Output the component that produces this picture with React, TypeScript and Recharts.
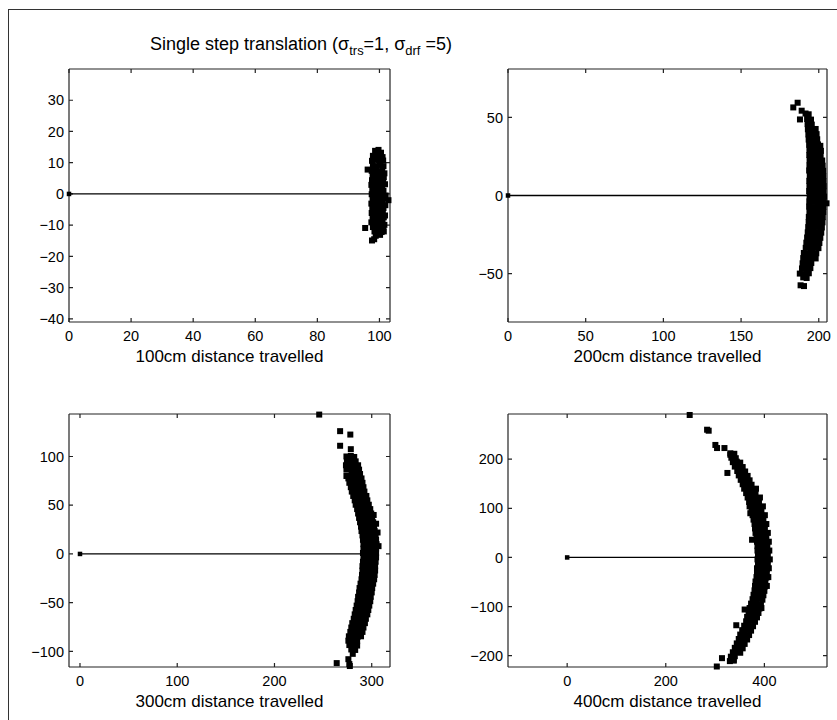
import React from "react";
import { ScatterChart, Scatter, XAxis, YAxis, ReferenceLine } from "recharts";

type Pt = [number, number];

// end points of a single-step translation
const ends100: Pt[] = [
  [98.6, 13.8], [99.7, 14.1], [100.5, 13.2],
  [97.9, 12.2], [99.0, 12.5], [100.1, 12.0], [101.0, 11.8],
  [97.6, 10.6], [98.7, 10.9], [99.9, 10.4], [101.2, 10.7],
  [97.9, 9.1], [99.1, 8.8], [100.3, 9.3], [101.3, 8.9],
  [96.2, 7.8], [97.5, 7.4], [98.6, 7.6], [99.8, 7.2], [100.9, 7.7], [101.6, 6.6],
  [97.8, 5.9], [99.0, 6.2], [100.2, 5.8], [101.4, 5.4],
  [97.6, 4.4], [98.8, 4.7], [100.0, 4.2], [101.2, 3.9],
  [97.4, 2.9], [98.5, 3.2], [99.7, 2.7], [100.9, 2.5], [101.8, 3.1],
  [97.7, 1.4], [98.9, 1.7], [100.1, 1.2], [101.3, 1.0],
  [97.5, -0.1], [98.7, 0.2], [99.9, -0.3], [101.1, 0.1], [102.0, -0.5],
  [97.8, -1.6], [99.0, -1.3], [100.2, -1.8], [101.4, -1.5], [102.9, -2.0],
  [97.4, -3.1], [98.6, -2.8], [99.8, -3.3], [101.0, -3.0], [101.9, -3.6],
  [97.7, -4.6], [98.9, -4.3], [100.1, -4.8], [101.3, -4.5],
  [97.5, -6.1], [98.7, -5.8], [99.9, -6.3], [101.1, -6.0], [101.8, -6.9],
  [97.8, -7.6], [99.0, -7.3], [100.2, -7.8], [101.4, -7.5],
  [97.4, -9.1], [98.6, -8.8], [99.8, -9.3], [101.0, -9.0], [101.6, -9.9],
  [95.4, -10.9], [97.9, -10.6], [99.1, -10.3], [100.3, -10.8], [101.2, -10.4],
  [98.4, -12.0], [99.6, -11.7], [100.7, -12.2], [101.4, -12.0],
  [98.8, -13.4], [100.2, -13.1],
  [97.6, -14.9], [98.3, -14.5],
];

const ends200: Pt[] = [
  [186.4, 59.4], [183.6, 56.4], [189.0, 54.3],
  [191.5, 52.5], [193.5, 52.0],
  [187.9, 48.7], [192.5, 49.0], [195.0, 48.6],
  [192.8, 45.7], [195.5, 45.4],
  [193.0, 42.4], [195.8, 42.1], [198.0, 42.6],
  [193.3, 39.1], [196.1, 38.8], [198.6, 39.3],
  [193.5, 35.8], [196.4, 35.5], [199.0, 36.0],
  [193.8, 32.5], [196.7, 32.2], [199.5, 32.7], [201.0, 31.8],
  [194.0, 29.2], [197.0, 28.9], [199.8, 29.4], [201.4, 28.6],
  [193.9, 25.9], [196.8, 25.6], [199.7, 26.1], [201.2, 25.5],
  [194.1, 22.6], [197.1, 22.3], [200.0, 22.8], [202.2, 22.4],
  [194.0, 19.3], [197.0, 19.0], [199.9, 19.5], [202.5, 19.1],
  [193.8, 16.0], [196.9, 15.7], [199.9, 16.2], [202.8, 15.8],
  [194.2, 12.7], [197.2, 12.4], [200.2, 12.9], [202.9, 12.5],
  [193.9, 9.4], [197.0, 9.1], [200.0, 9.6], [203.0, 9.2],
  [194.0, 6.1], [197.1, 5.8], [200.2, 6.3], [203.2, 5.9],
  [193.8, 2.8], [196.9, 2.5], [200.0, 3.0], [203.1, 2.6],
  [194.1, -0.5], [197.2, -0.8], [200.3, -0.3], [203.4, -0.7],
  [193.9, -3.8], [197.0, -4.1], [200.1, -3.6], [203.2, -4.0], [205.0, -5.0],
  [193.8, -7.1], [196.9, -7.4], [200.0, -6.9], [203.0, -7.3],
  [194.0, -10.4], [197.1, -10.7], [200.2, -10.2], [202.9, -10.6],
  [193.6, -13.7], [196.7, -14.0], [199.8, -13.5], [202.6, -13.9],
  [193.5, -17.0], [196.5, -17.3], [199.6, -16.8], [202.4, -17.2],
  [193.2, -20.3], [196.2, -20.6], [199.3, -20.1], [202.0, -20.5],
  [192.9, -23.6], [195.9, -23.9], [199.0, -23.4], [201.6, -23.8],
  [192.5, -26.9], [195.5, -27.2], [198.5, -26.7], [201.0, -27.1],
  [192.0, -30.2], [195.1, -30.5], [198.1, -30.0], [200.4, -30.4],
  [191.6, -33.5], [194.6, -33.8], [197.6, -33.3], [199.8, -33.7],
  [190.4, -36.8], [193.2, -37.1], [196.0, -36.6], [198.4, -37.0],
  [190.0, -40.1], [193.0, -40.4], [195.8, -39.9], [198.0, -40.3],
  [189.6, -43.4], [192.5, -43.7], [195.2, -43.2],
  [189.2, -46.7], [192.0, -47.0], [194.6, -46.5],
  [187.8, -50.0], [190.8, -50.3], [193.6, -49.8],
  [190.0, -52.4], [192.2, -52.8],
  [188.3, -57.5], [190.5, -58.0],
];

const ends300: Pt[] = [
  [246, 143], [267.5, 126], [278, 122.5], [267.5, 111], [278.5, 107.5],
  [274, 100], [278.5, 100.5], [282, 99.5],
  [274.5, 95.5], [279, 96], [283.5, 95],
  [273.5, 91], [277.5, 91.5], [282, 90.5], [286, 91],
  [274, 86.5], [278.5, 87], [283, 86], [287, 86.5],
  [274, 80], [279.5, 82.5], [284, 81.5], [288, 82],
  [276, 77.5], [280.5, 78], [285, 77], [289.5, 77.5],
  [277, 73], [281.5, 73.5], [286, 72.5], [290.5, 73],
  [278.5, 68.5], [283, 69], [287.5, 68], [291.5, 68.5],
  [279.5, 64], [284, 64.5], [288.5, 63.5], [292.5, 64],
  [281, 59.5], [285.5, 60], [290, 59], [294.5, 59.5],
  [282.5, 55], [287, 55.5], [291.5, 54.5], [295.5, 55],
  [283.5, 50.5], [288, 51], [292.5, 50], [297, 50.5],
  [285, 46], [289.5, 46.5], [294, 45.5], [298.5, 46],
  [286, 41.5], [290.5, 42], [295, 41], [299.5, 41.5], [302, 40],
  [287, 37], [291.5, 37.5], [296, 36.5], [300.5, 37],
  [288, 32.5], [292.5, 33], [297, 32], [301.5, 32.5], [304.5, 31],
  [289, 28], [293.5, 28.5], [298, 27.5], [302.5, 28],
  [289.5, 23.5], [294, 24], [298.5, 23], [303, 23.5], [306, 22],
  [290.5, 19], [295, 19.5], [299.5, 18.5], [304, 19],
  [291, 14.5], [295.5, 15], [300, 14], [304.5, 14.5],
  [291.5, 10], [296, 10.5], [300.5, 9.5], [305, 10], [307, 8],
  [291.5, 5.5], [296, 6], [300.5, 5], [304.5, 5.5],
  [291, 1], [295.5, 1.5], [300, 0.5], [304.5, 1],
  [291.5, -3.5], [296, -3], [300.5, -4], [304.5, -3.5],
  [291, -8], [295.5, -7.5], [300, -8.5], [304, -8],
  [290.5, -12.5], [295, -12], [299.5, -13], [303.5, -12.5],
  [290.5, -17], [295, -16.5], [299.5, -17.5], [303.5, -17],
  [290, -21.5], [294.5, -21], [299, -22], [303, -21.5],
  [289.5, -26], [294, -25.5], [298.5, -26.5], [302.5, -26],
  [288.5, -30.5], [293, -30], [297.5, -31], [301.5, -30.5],
  [287.5, -35], [292, -34.5], [296.5, -35.5], [300.5, -35],
  [287, -39.5], [291.5, -39], [296, -40], [300, -39.5],
  [286, -44], [290.5, -43.5], [295, -44.5], [299, -44],
  [285.5, -48.5], [290, -48], [294.5, -49], [298.5, -48.5],
  [284.5, -53], [289, -52.5], [293.5, -53.5], [297.5, -53],
  [283.5, -57.5], [288, -57], [292.5, -58], [296.5, -57.5],
  [282.5, -62], [287, -61.5], [291.5, -62.5], [295.5, -62],
  [281.5, -66.5], [286, -66], [290.5, -67], [294, -66.5],
  [280, -71], [284.5, -70.5], [289, -71.5], [293, -71],
  [279, -75.5], [283.5, -75], [288, -76], [291.5, -75.5],
  [278, -80], [282.5, -79.5], [287, -80.5], [290.5, -80],
  [276.5, -84.5], [281, -84], [285.5, -85], [289, -84.5],
  [276, -89], [280.5, -88.5], [285, -89.5],
  [277, -93.5], [281.5, -93], [285, -94],
  [279, -98], [283, -98.5],
  [280.5, -102.5], [276, -108], [264, -112], [277, -113], [277.5, -115],
];

const ends400: Pt[] = [
  [248.5, 290], [283.8, 260], [287, 258], [300.6, 229], [304, 222.7], [319, 222.7], [331, 209],
  [331, 212], [339, 211],
  [333, 203], [342, 202],
  [336, 194], [344, 195], [351, 193],
  [340, 185], [348, 186], [356, 184],
  [325, 172], [345, 176], [353, 177], [361, 175],
  [348, 167], [357, 168], [366, 166],
  [352, 158], [361, 159], [370, 157],
  [356, 149], [365, 150], [374, 148],
  [359, 140], [369, 141], [378, 139], [383, 140],
  [363, 131], [372, 132], [382, 130],
  [366, 122], [376, 123], [386, 121], [391, 122],
  [369, 113], [379, 114], [389, 112],
  [370, 104], [380, 105], [390, 103], [397, 104],
  [374, 95], [384, 96], [394, 94],
  [371.5, 90], [376, 86], [386, 87], [396, 85], [401, 86],
  [378, 77], [388, 78], [398, 76],
  [380, 68], [390, 69], [400, 67], [404, 68],
  [381, 59], [391, 60], [401, 58],
  [382, 50], [392, 51], [402, 49], [407, 50],
  [375, 36], [384, 41], [394, 42], [404, 40],
  [385, 32], [395, 33], [405, 31], [409, 32],
  [386, 23], [396, 24], [406, 22],
  [386, 14], [396, 15], [406, 13], [410, 14],
  [387, 5], [397, 6], [407, 4],
  [386, -4], [396, -3], [406, -5], [411, -4],
  [387, -13], [397, -12], [407, -14],
  [385, -22], [395, -21], [405, -23], [409, -22],
  [385, -31], [395, -30], [405, -32],
  [384, -40], [394, -39], [404, -41], [408, -40],
  [382, -49], [392, -48], [402, -50],
  [381, -58], [391, -57], [401, -59], [405, -58],
  [380, -67], [390, -66], [400, -68],
  [378, -76], [388, -75], [398, -77],
  [376, -85], [386, -84], [396, -86],
  [373, -94], [383, -93], [393, -95],
  [360, -106], [370, -103], [380, -102], [390, -104], [394, -103],
  [368, -112], [378, -111], [388, -113],
  [365, -121], [375, -120], [385, -122],
  [363, -130], [372, -129], [381, -131],
  [343, -138], [359, -139], [368, -138], [377, -140],
  [355, -148], [364, -147], [373, -149],
  [351, -157], [360, -156], [369, -158],
  [348, -166], [357, -165], [365, -167],
  [344, -175], [352, -174], [360, -176],
  [340, -184], [348, -183], [356, -185],
  [336, -193], [344, -192], [351, -194],
  [332, -202], [340, -201],
  [330, -211], [338, -210], [337.7, -208], [314, -205], [303.5, -222],
];

// path from the start point to the commanded end point
const path100: Pt[] = [[0, 0], [97, 0]];
const path200: Pt[] = [[0, 0], [194, 0]];
const path300: Pt[] = [[0, 0], [290, 0]];
const path400: Pt[] = [[0, 0], [386, 0]];

const xTicks100 = [0, 20, 40, 60, 80, 100];
const yTicks100 = [-40, -30, -20, -10, 0, 10, 20, 30];
const xTicks200 = [0, 50, 100, 150, 200];
const yTicks200 = [-50, 0, 50];
const xTicks300 = [0, 100, 200, 300];
const yTicks300 = [-100, -50, 0, 50, 100];
const xTicks400 = [0, 200, 400];
const yTicks400 = [-200, -100, 0, 100, 200];

const FONT = "'Liberation Sans', Arial, Helvetica, sans-serif";
const AXIS = "#222";
const TICK = 4;

const fmt = (v: number) => String(v).replace("-", "\u2212");
const toXY = (p: Pt[]) => p.map(([x, y]) => ({ x, y }));

const Square = (size: number) => (p: any) =>
  <rect x={p.cx - size / 2} y={p.cy - size / 2} width={size} height={size} fill="#000" />;
const Nothing = () => <g />;

// inward tick marks at both ends of a reference line (matlab style box ticks)
const XTickMark = (p: any) => {
  const x = p.x1, top = Math.min(p.y1, p.y2), bot = Math.max(p.y1, p.y2);
  return <path d={`M${x},${top}v${TICK}M${x},${bot}v${-TICK}`} stroke={AXIS} strokeWidth={1.2} fill="none" />;
};
const YTickMark = (p: any) => {
  const y = p.y1, l = Math.min(p.x1, p.x2), r = Math.max(p.x1, p.x2);
  return <path d={`M${l},${y}h${TICK}M${r},${y}h${-TICK}`} stroke={AXIS} strokeWidth={1.2} fill="none" />;
};

type PanelProps = {
  left: number; top: number; w: number; h: number;
  xDomain: [number, number]; yDomain: [number, number];
  xTicks: number[]; yTicks: number[];
  ends: Pt[]; path: Pt[]; label: string;
};

function Panel({ left, top, w, h, xDomain, yDomain, xTicks, yTicks, ends, path, label }: PanelProps) {
  const tickStyle = { fill: "#000", fontSize: 14.5, fontFamily: FONT };
  return (
    <>
      <div style={{ position: "absolute", left: left - 60, top: top - 10 }}>
        <ScatterChart width={60 + w + 14} height={10 + h + 50} margin={{ top: 10, right: 14, bottom: 0, left: 0 }}>
          <XAxis xAxisId="b" type="number" dataKey="x" orientation="bottom" height={50}
            domain={xDomain} ticks={xTicks} interval={0} tickFormatter={fmt} tickLine={false}
            tickSize={-TICK} tickMargin={13} stroke={AXIS} strokeWidth={1.2} tick={tickStyle} />
          <YAxis yAxisId="l" type="number" dataKey="y" orientation="left" width={60}
            domain={yDomain} ticks={yTicks} interval={0} tickFormatter={fmt} tickLine={false}
            tickSize={-TICK} tickMargin={9} stroke={AXIS} strokeWidth={1.2} tick={tickStyle} />
          {/* top and right sides of the box */}
          <ReferenceLine xAxisId="b" yAxisId="l" y={yDomain[1]} stroke={AXIS} strokeWidth={1.2} />
          <ReferenceLine xAxisId="b" yAxisId="l" x={xDomain[1]} stroke={AXIS} strokeWidth={1.2} />
          {xTicks.map((t) => (
            <ReferenceLine key={`x${t}`} xAxisId="b" yAxisId="l" x={t} shape={XTickMark} />
          ))}
          {yTicks.map((t) => (
            <ReferenceLine key={`y${t}`} xAxisId="b" yAxisId="l" y={t} shape={YTickMark} />
          ))}
          <Scatter xAxisId="b" yAxisId="l" data={toXY(path)} line={{ stroke: "#000", strokeWidth: 1.3 }}
            shape={Nothing} isAnimationActive={false} />
          <Scatter xAxisId="b" yAxisId="l" data={toXY(ends)} shape={Square(6)} isAnimationActive={false} />
          <Scatter xAxisId="b" yAxisId="l" data={[{ x: 0, y: 0 }]} shape={Square(4.5)} isAnimationActive={false} />
        </ScatterChart>
      </div>
      <div style={{
        position: "absolute", left: left + w / 2 - 150, width: 300, top: top + h + 25,
        textAlign: "center", fontFamily: FONT, fontSize: 17, lineHeight: "19px", color: "#000",
      }}>{label}</div>
    </>
  );
}

export default function App() {
  return (
    <div style={{ position: "absolute", left: 0, top: 0, width: 837, height: 720, overflow: "hidden", background: "#fff" }}>
      <div style={{ position: "absolute", left: 8, top: 9, width: 900, height: 800, borderLeft: "1.5px solid #333", borderTop: "1.5px solid #333" }} />
      <div style={{ position: "absolute", left: 150, top: 35, fontFamily: FONT, fontSize: 18, lineHeight: 1, whiteSpace: "nowrap", color: "#000" }}>
        Single step translation (σ<span style={{ fontSize: "0.72em", verticalAlign: "-0.4em", lineHeight: 0 }}>trs</span>=1, σ<span style={{ fontSize: "0.72em", verticalAlign: "-0.4em", lineHeight: 0 }}>drf</span> =5)
      </div>
      <Panel left={69} top={69} w={321} h={253} xDomain={[0, 103.4]} yDomain={[-41, 40]}
        xTicks={xTicks100} yTicks={yTicks100} ends={ends100} path={path100} label="100cm distance travelled" />
      <Panel left={508} top={69} w={319} h={253} xDomain={[0, 205.3]} yDomain={[-81, 81]}
        xTicks={xTicks200} yTicks={yTicks200} ends={ends200} path={path200} label="200cm distance travelled" />
      <Panel left={69} top={414} w={321} h={253} xDomain={[-11.3, 318.8]} yDomain={[-116, 143.6]}
        xTicks={xTicks300} yTicks={yTicks300} ends={ends300} path={path300} label="300cm distance travelled" />
      <Panel left={508} top={414} w={319} h={253} xDomain={[-120, 527]} yDomain={[-223, 292]}
        xTicks={xTicks400} yTicks={yTicks400} ends={ends400} path={path400} label="400cm distance travelled" />
    </div>
  );
}
